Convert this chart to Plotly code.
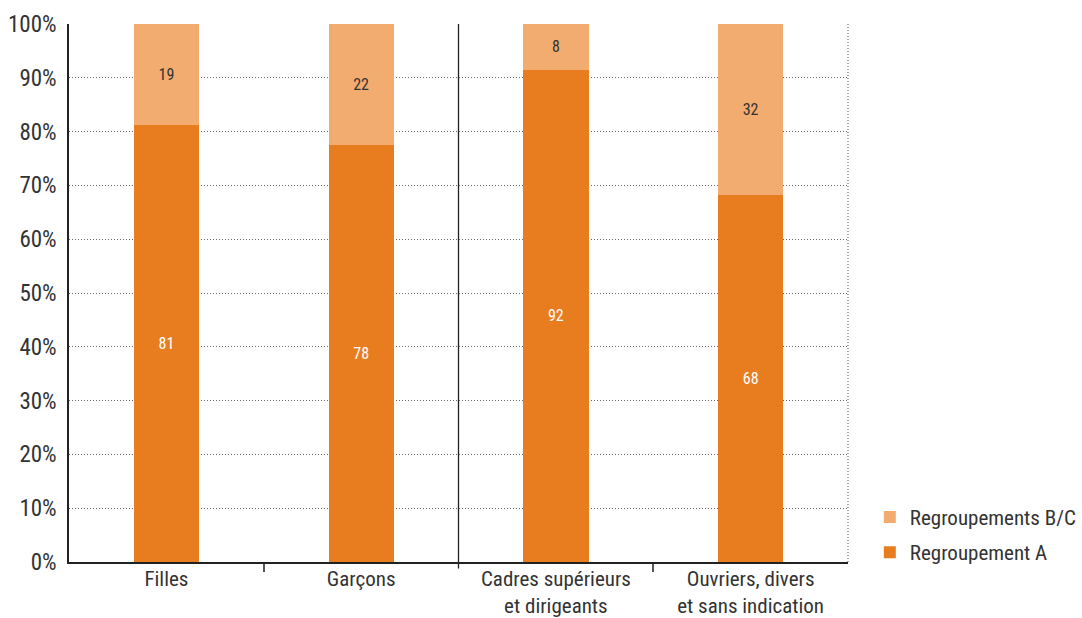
import plotly.graph_objects as go

categories = ["Filles", "Garçons", "Cadres supérieurs<br>et dirigeants", "Ouvriers, divers<br>et sans indication"]
regroupement_a = [81.3, 77.6, 91.5, 68.3]
regroupement_bc = [18.7, 22.4, 8.5, 31.7]
labels_a = ["81", "78", "92", "68"]
labels_bc = ["19", "22", "8", "32"]
y_ticks = [0, 10, 20, 30, 40, 50, 60, 70, 80, 90, 100]
y_ticklabels = ["0%", "10%", "20%", "30%", "40%", "50%", "60%", "70%", "80%", "90%", "100%"]

FONT = "Roboto Condensed, Liberation Sans Narrow, Arial Narrow, Roboto, sans-serif"
DARK = "#E77D1F"
LIGHT = "#F2AC6F"
xpos = list(range(len(categories)))

fig = go.Figure()
fig.add_trace(go.Bar(
    x=xpos, y=regroupement_a, name="Regroupement A", legendgroup="a", legendrank=2,
    marker=dict(color=DARK, line=dict(width=0)),
    width=0.335, text=labels_a, textposition="inside", insidetextanchor="middle",
    textangle=0, constraintext="none",
    textfont=dict(color="white", size=16, family=FONT),
    hoverinfo="skip",
))
fig.add_trace(go.Bar(
    x=xpos, y=regroupement_bc, name="Regroupements B/C", legendgroup="bc", legendrank=1,
    marker=dict(color=LIGHT, line=dict(width=0)),
    width=0.335, text=labels_bc, textposition="inside", insidetextanchor="middle",
    textangle=0, constraintext="none",
    textfont=dict(color="#333333", size=16, family=FONT),
    hoverinfo="skip",
))

fig.update_layout(
    width=1082, height=618,
    barmode="stack",
    plot_bgcolor="white", paper_bgcolor="white",
    margin=dict(l=69, r=234, t=24, b=56, pad=0, autoexpand=False),
    font=dict(family=FONT, color="#333333", size=20),
    showlegend=True,
    legend=dict(
        x=1.028, y=-0.02, xanchor="left", yanchor="bottom",
        traceorder="grouped", font=dict(size=21, color="#333333", family=FONT),
        itemwidth=30, bgcolor="rgba(0,0,0,0)", tracegroupgap=5,
    ),
    xaxis=dict(
        range=[-0.5, 3.5], tickvals=xpos, ticktext=categories,
        ticks="", showgrid=False, zeroline=False, automargin=False,
        showline=True, linecolor="#222222", linewidth=1.5,
        ticklabelstandoff=-3,
        tickfont=dict(size=21, color="#333333", family=FONT),
        minor=dict(tickvals=[0.5, 2.5], ticks="outside", ticklen=8, tickcolor="#555555", tickwidth=1.5, showgrid=False),
        fixedrange=True,
    ),
    yaxis=dict(
        range=[0, 100], tickvals=y_ticks, ticktext=y_ticklabels,
        showgrid=True, gridcolor="#666666", griddash="1px,2px", gridwidth=1,
        zeroline=False, showline=True, linecolor="#222222", linewidth=1.5,
        ticks="", ticklabelstandoff=6, automargin=False,
        tickfont=dict(size=23, color="#333333", family=FONT),
        fixedrange=True,
    ),
    bargap=0.665,
)

# right border (dotted) and separator line between groups
fig.add_shape(type="line", xref="paper", yref="paper", x0=1, x1=1, y0=0, y1=1,
              line=dict(color="#888888", width=1.5, dash="1px,2px"), layer="below")
fig.add_shape(type="line", xref="x", yref="paper", x0=1.5, x1=1.5, y0=-0.012, y1=1,
              line=dict(color="#222222", width=1.3), layer="above")

fig.write_html(
    "out.html",
    config={"displayModeBar": False},
    post_script="document.body.style.margin='0';document.body.style.overflow='hidden';",
)
